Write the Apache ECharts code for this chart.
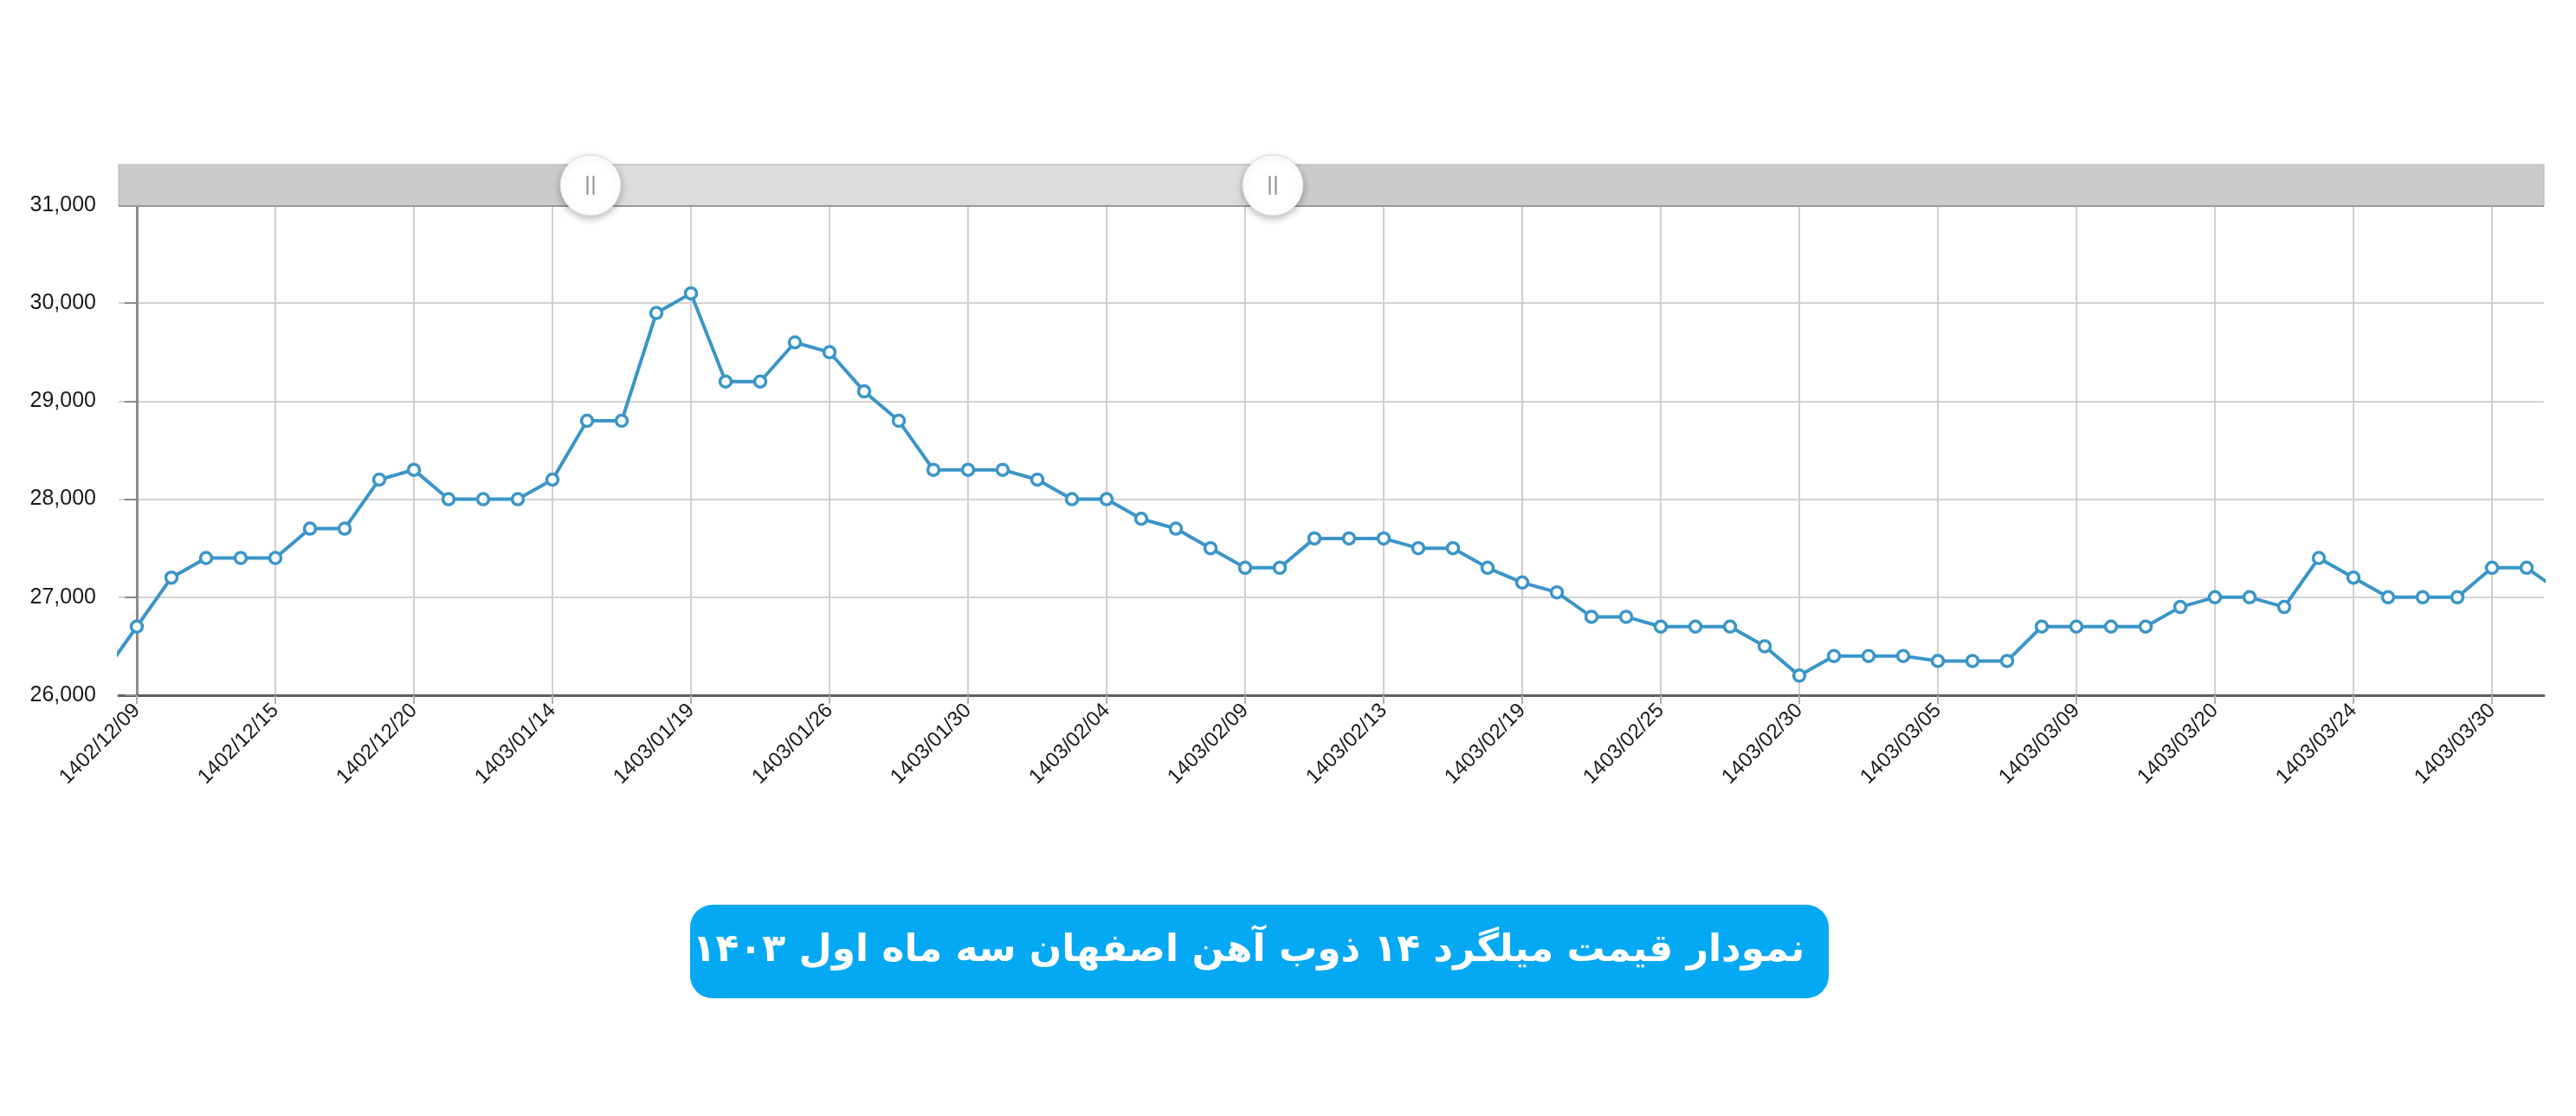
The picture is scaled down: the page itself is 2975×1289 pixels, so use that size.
<!DOCTYPE html>
<html>
<head>
<meta charset="utf-8">
<style>
html,body{margin:0;padding:0;background:#fff;}
#c{width:2975px;height:1289px;}
</style>
<script src="https://cdn.jsdelivr.net/npm/echarts@6/dist/echarts.min.js"></script>
</head>
<body>
<div id="c"></div>
<script>
// Trading-day prices (Toman/kg). First and last entries lie just outside the visible window.
const firstIndex = -1;
const prices = [
  26200,
  26700, 27200, 27400, 27400, 27400, 27700, 27700, 28200, 28300, 28000,
  28000, 28000, 28200, 28800, 28800, 29900, 30100, 29200, 29200, 29600,
  29500, 29100, 28800, 28300, 28300, 28300, 28200, 28000, 28000, 27800,
  27700, 27500, 27300, 27300, 27600, 27600, 27600, 27500, 27500, 27300,
  27150, 27050, 26800, 26800, 26700, 26700, 26700, 26500, 26200, 26400,
  26400, 26400, 26350, 26350, 26350, 26700, 26700, 26700, 26700, 26900,
  27000, 27000, 26900, 27400, 27200, 27000, 27000, 27000, 27300, 27300,
  27050
];
// Date labels shown on the x axis (one every 4 trading days, starting at index 0)
const tickLabels = [
  '1402/12/09', '1402/12/15', '1402/12/20', '1403/01/14', '1403/01/19',
  '1403/01/26', '1403/01/30', '1403/02/04', '1403/02/09', '1403/02/13',
  '1403/02/19', '1403/02/25', '1403/02/30', '1403/03/05', '1403/03/09',
  '1403/03/20', '1403/03/24', '1403/03/30'
];
const tickStep = 4;
const yTicks = [26000, 27000, 28000, 29000, 30000, 31000];
const titleText = 'نمودار قیمت میلگرد ۱۴ ذوب آهن اصفهان سه ماه اول ۱۴۰۳';

const seriesData = prices.map((v, k) => [k + firstIndex, v]);
const tickPositions = tickLabels.map((_, k) => k * tickStep);

const chart = echarts.init(document.getElementById('c'), null, {renderer: 'canvas'});

const lineColor = '#3a95c8';
const sliderL = 137, sliderR = 2938, sliderT = 190, sliderH = 48;
const h1 = 682, h2 = 1470, hy = 214;

function handle(x) {
  return [
    {type: 'circle', z: 20, shape: {cx: x, cy: hy, r: 35},
     style: {fill: '#ffffff', stroke: '#dedede', lineWidth: 1,
             shadowBlur: 8, shadowColor: 'rgba(0,0,0,0.28)', shadowOffsetY: 3}},
    {type: 'line', z: 21, shape: {x1: x - 3.5, y1: hy - 11, x2: x - 3.5, y2: hy + 11},
     style: {stroke: '#8c8c8c', lineWidth: 2}},
    {type: 'line', z: 21, shape: {x1: x + 3.5, y1: hy - 11, x2: x + 3.5, y2: hy + 11},
     style: {stroke: '#8c8c8c', lineWidth: 2}}
  ];
}

chart.setOption({
  backgroundColor: '#ffffff',
  animation: false,
  grid: {left: 137, right: 37, top: 237, bottom: 486, containLabel: false},
  xAxis: {
    type: 'value',
    min: -0.525,
    max: 69.5,
    axisLine: {show: true, onZero: false, lineStyle: {color: '#5e5e5e', width: 3}},
    axisTick: {show: true, length: 10, customValues: tickPositions,
               lineStyle: {color: '#b0b0b0', width: 2}},
    axisLabel: {
      customValues: tickPositions,
      rotate: 45,
      margin: 14,
      fontSize: 24,
      fontFamily: 'Liberation Sans',
      color: '#1a1a1a',
      formatter: function (v) { return tickLabels[Math.round(v / tickStep)] || ''; }
    },
    splitLine: {show: true, lineStyle: {color: '#d0d0d0', width: 2}}
  },
  yAxis: {
    type: 'value',
    min: yTicks[0],
    max: yTicks[yTicks.length - 1],
    interval: 1000,
    axisLine: {show: true, lineStyle: {color: '#8a8a8a', width: 3}},
    axisTick: {show: true, length: 14, lineStyle: {color: '#8a8a8a', width: 2}},
    axisLabel: {margin: 26, fontSize: 25, fontFamily: 'Liberation Sans', color: '#1a1a1a'},
    splitLine: {show: true, lineStyle: {color: '#d3d3d3', width: 2}}
  },
  series: [{
    type: 'line',
    data: seriesData,
    clip: true,
    symbol: 'circle',
    symbolSize: 13,
    showAllSymbol: true,
    itemStyle: {color: '#ffffff', borderColor: lineColor, borderWidth: 3.5},
    lineStyle: {color: lineColor, width: 4},
    z: 3
  }],
  graphic: [
    {type: 'rect', z: 10, shape: {x: sliderL, y: sliderT, width: sliderR - sliderL, height: sliderH},
     style: {fill: '#cbcbcb', stroke: '#b5b5b5', lineWidth: 1}},
    {type: 'rect', z: 11, shape: {x: h1, y: sliderT + 1, width: h2 - h1, height: sliderH - 2},
     style: {fill: '#dcdcdc'}},
    {type: 'line', z: 11, shape: {x1: sliderL, y1: sliderT + sliderH, x2: sliderR, y2: sliderT + sliderH},
     style: {stroke: '#9a9a9a', lineWidth: 2}}
  ].concat(handle(h1), handle(h2), [
    {type: 'rect', z: 10, shape: {x: 797, y: 1045, width: 1315, height: 108, r: 26},
     style: {fill: '#05a8f3'}},
    {type: 'text', z: 11, x: 1442, y: 1099,
     style: {text: titleText, fill: '#ffffff', font: 'bold 44px "DejaVu Sans"',
             align: 'center', verticalAlign: 'middle'}}
  ])
});
</script>
</body>
</html>
